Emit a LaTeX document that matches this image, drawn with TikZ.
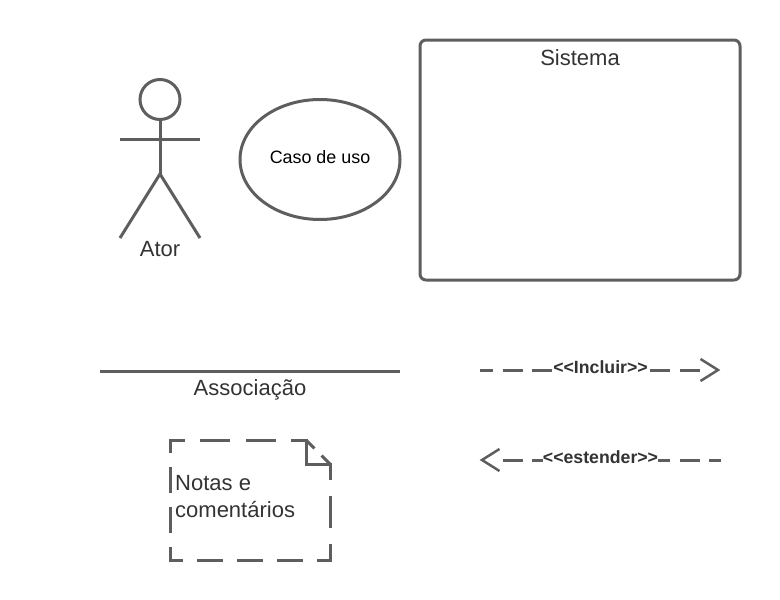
\documentclass[tikz,border=0pt]{standalone}
\usepackage{fontspec}
\setmainfont{Liberation Sans}
\usetikzlibrary{arrows.meta,shapes.geometric}
\definecolor{linec}{HTML}{5E5E5E}
\definecolor{textc}{HTML}{333333}
\tikzset{
  shapeline/.style={draw=linec,line width=3pt},
  label/.style={text=textc,font=\fontsize{22}{26}\selectfont,inner sep=0pt},
  connlabel/.style={text=textc,fill=white,inner sep=0pt,font=\fontsize{17.7}{20}\selectfont\bfseries},
  dashbase/.style={draw=linec,line width=3pt,line cap=rect},
  shaft/.style={draw=linec,line width=3pt,dash pattern=on 20pt off 9.5pt},
  chevron/.style={draw=linec,line width=2.5pt,miter limit=10},
}
\begin{document}
\begin{tikzpicture}[x=1pt,y=-1pt]
\useasboundingbox (0,0) rectangle (780,600);
% actor
\node[shapeline,circle,minimum size=40pt,inner sep=0pt] (head) at (160,99.5) {};
\coordinate (armL) at (120,139);
\coordinate (armR) at (200,139);
\coordinate (hip) at (160,174);
\coordinate (legL) at (120,238);
\coordinate (legR) at (200,238);
\draw[shapeline] (head.south) -- (hip);
\draw[shapeline] (armL) -- (armR);
\draw[shapeline] (legL) -- (hip) -- (legR);
\node[label] (ator) at (160,249) {Ator};
% use case
\node[shapeline,ellipse,minimum width=160pt,minimum height=120pt,inner sep=0pt] (caso) at (320,159.5) {};
\node[text=black,inner sep=0pt,font=\fontsize{17.9}{20}\selectfont] (casotxt) at (320,157.5) {Caso de uso};
% system
\node[shapeline,rounded corners=6pt,minimum width=320pt,minimum height=240pt,inner sep=0pt] (sistema) at (580,160) {};
\node[label] (sistematxt) at (580,58) {Sistema};
% association
\coordinate (assocA) at (100,371);
\coordinate (assocB) at (400,371);
\draw[shapeline] (assocA) -- (assocB);
\node[label] (assoc) at (250,390) {Associação};
% include
\coordinate (incA) at (480,370);
\coordinate (incS) at (702,370);
\coordinate (incTip) at (718,370);
\coordinate (incU) at (700.5,359);
\coordinate (incD) at (700.5,381);
\draw[shaft,dash phase=7pt] (incA) -- (incS);
\draw[chevron] (incU) -- (incTip) -- (incD);
\node[connlabel] (inc) at (600.5,367.5) {<{}<Incluir>{}>};
% extend
\coordinate (extA) at (721,460);
\coordinate (extS) at (500,460);
\coordinate (extTip) at (482,460);
\coordinate (extU) at (499.5,449);
\coordinate (extD) at (499.5,471);
\draw[shaft,dash phase=8pt] (extA) -- (extS);
\draw[chevron] (extU) -- (extTip) -- (extD);
\node[connlabel] (ext) at (600.5,457.5) {<{}<estender>{}>};
% note
\coordinate (nTL) at (170,440);
\coordinate (nFold) at (306,440);
\coordinate (nIn) at (306,464);
\coordinate (nTR) at (330,464);
\coordinate (nBR) at (330,560);
\coordinate (nBL) at (170,560);
\draw[dashbase,dash pattern=on 27pt off 18.4pt,dash phase=13.5pt] (nTL) -- (nFold);
\draw[dashbase,dash pattern=on 23pt off 17pt,dash phase=11.5pt] (nTL) -- (nBL);
\draw[dashbase,dash pattern=on 23pt off 17pt,dash phase=11.5pt] (nBL) -- (nBR);
\draw[dashbase,dash pattern=on 29pt off 19pt,dash phase=14.5pt] (nTR) -- (nBR);
\draw[shapeline] (nFold) -- (nIn) -- (nTR);
\draw[draw=linec,line width=3pt,dash pattern=on 12pt off 10pt] (nFold) -- (nTR);
\node[label,align=left,anchor=west,font=\fontsize{22}{27}\selectfont] (notas) at (175,496.5) {Notas e\\comentários};
\end{tikzpicture}
\end{document}
